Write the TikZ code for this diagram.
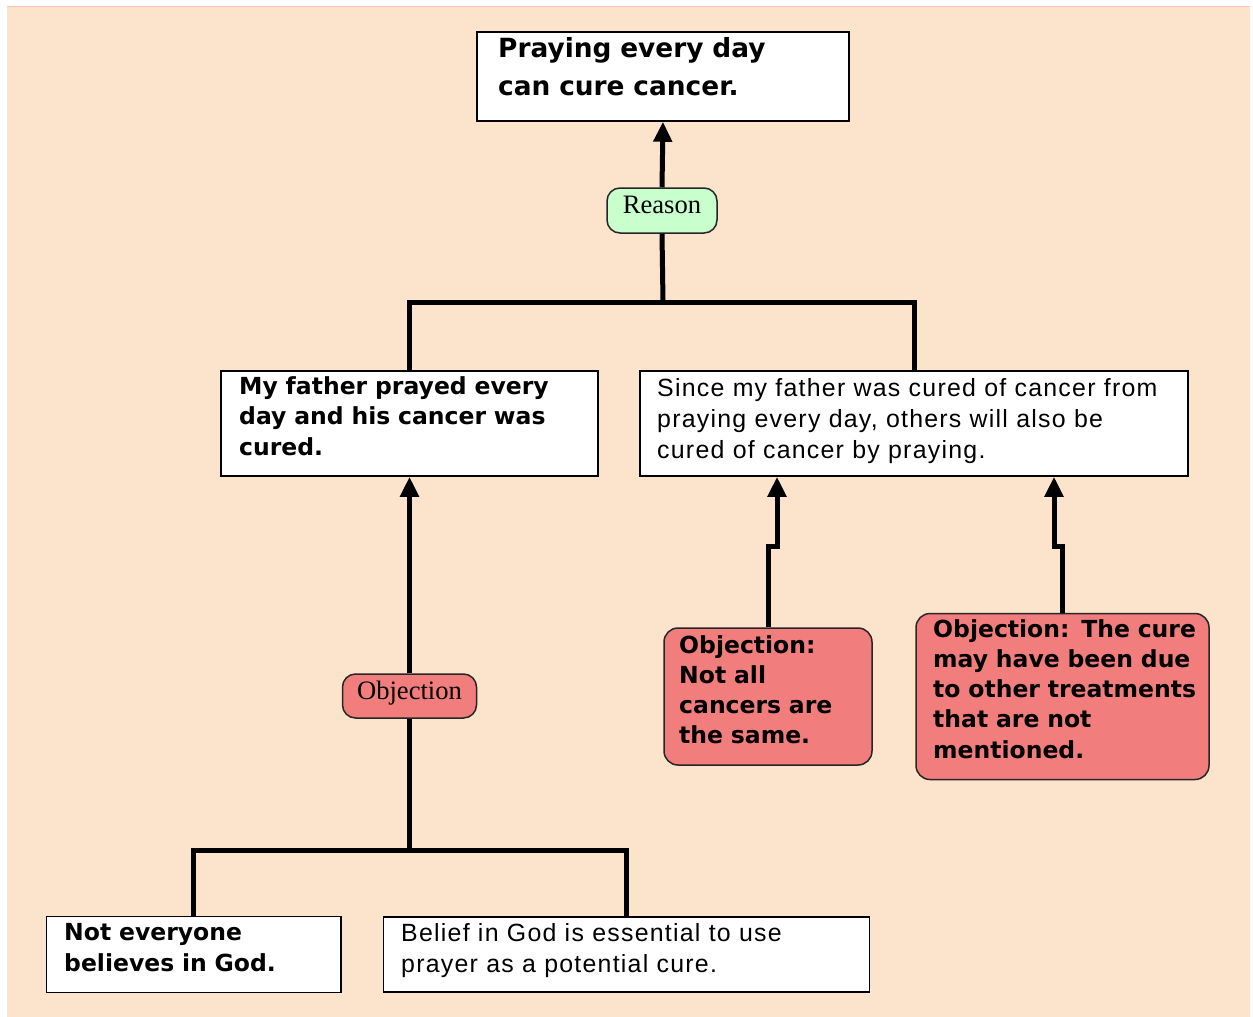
\documentclass[tikz,border=0pt]{standalone}
\usepackage{fontspec}
\setmainfont{Liberation Sans}
\newfontfamily\bsans{DejaVu Sans}
\newfontfamily\rsans[LetterSpace=5]{Liberation Sans}
\newfontfamily\serifl{Liberation Serif}
\usetikzlibrary{arrows.meta}
\definecolor{bgc}{RGB}{252,227,204}
\definecolor{redf}{RGB}{242,125,125}
\definecolor{greenf}{RGB}{200,255,205}
\begin{document}
\begin{tikzpicture}[x=1pt,y=-1pt,
  box/.style={draw=black,line width=1.5pt,fill=white,inner sep=0pt},
  objbox/.style={draw=black!85,line width=1.5pt,fill=redf,rounded corners=14pt,inner sep=0pt},
  lab/.style={draw=black!85,line width=1.5pt,rounded corners=13pt,inner sep=0pt,text height=18pt,text depth=12pt,font=\serifl\fontsize{26.6}{30}\selectfont},
  btxt/.style={anchor=base west,inner sep=0pt,align=left,text width=420pt,font=\bsans\bfseries\fontsize{23.5}{30.5}\selectfont},
  rtxt/.style={anchor=base west,inner sep=0pt,align=left,text width=560pt,font=\rsans\fontsize{24.9}{31}\selectfont},
  conn/.style={line width=5pt,line join=miter},
  arr/.style={conn,-{Triangle[length=20pt,width=18pt]}}]
\useasboundingbox (0,0) rectangle (1253,1017);
\fill[bgc] (7,6) rectangle (1250,1017);
\draw[red!25,line width=1pt] (7,6.5) -- (1250,6.5);

% boxes
\node[box,minimum width=372pt,minimum height=89pt] (top) at (663,76.5) {};
\node[btxt,font=\bsans\bfseries\fontsize{26.4}{38}\selectfont] (topT) at (498,57) {Praying every day\\can cure cancer.};

\node[box,minimum width=377pt,minimum height=105pt] (m1) at (409.5,423.5) {};
\node[btxt] (m1T) at (239,394) {My father prayed every\\day and his cancer was\\cured.};

\node[box,minimum width=548pt,minimum height=105pt] (m2) at (914,423.5) {};
\node[rtxt] (m2T) at (657,396) {Since my father was cured of cancer from\\praying every day, others will also be\\cured of cancer by praying.};

\node[box,minimum width=294.5pt,minimum height=76pt] (b1) at (193.5,954.5) {};
\node[btxt,font=\bsans\bfseries\fontsize{23.5}{31.7}\selectfont] (b1T) at (64,940) {Not everyone\\believes in God.};

\node[box,minimum width=486pt,minimum height=75pt] (b2) at (626.5,954.5) {};
\node[rtxt] (b2T) at (401,941) {Belief in God is essential to use\\prayer as a potential cure.};

\node[objbox,minimum width=208pt,minimum height=137pt] (o1) at (768,696.5) {};
\node[btxt,font=\bsans\bfseries\fontsize{23.5}{30}\selectfont] (o1T) at (679,653) {Objection:\\Not all\\cancers are\\the same.};

\node[objbox,minimum width=293pt,minimum height=166pt] (o2) at (1062.5,696.5) {};
\node[btxt,font=\bsans\bfseries\fontsize{23.5}{30.3}\selectfont] (o2T) at (933,637) {Objection: The cure\\may have been due\\to other treatments\\that are not\\mentioned.};

% labels
\node[lab,fill=greenf,minimum width=110pt,minimum height=45pt] (reason) at (662,210.5) {Reason};
\node[lab,fill=redf,minimum width=134pt,minimum height=44pt] (objl) at (409.5,696) {Objection};

% coordinates
\coordinate (j1) at (663,302);
\coordinate (j2) at (409.5,850);
\coordinate (k1) at (777,546);
\coordinate (k2) at (1054,546);

% connectors
\draw[conn] (m1.north) |- (j1) -| (m2.north);
\draw[conn] (j1) -- (reason.south);
\draw[arr] (reason.north) -- (top.south);

\draw[conn] (b1.north) |- (j2) -| (b2.north);
\draw[conn] (j2) -- (objl.south);
\draw[arr] (objl.north) -- (m1.south);

\draw[arr] (o1.north) |- (k1) -- (k1 |- m2.south);
\draw[arr] (o2.north) |- (k2) -- (k2 |- m2.south);
\end{tikzpicture}
\end{document}
